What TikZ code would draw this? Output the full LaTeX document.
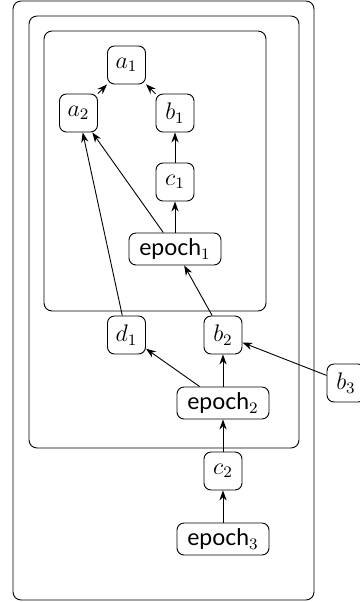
\documentclass[tikz,border=0pt]{standalone}
\usepackage{fontspec}
\setmainfont{Lato}
\usetikzlibrary{arrows.meta}
\begin{document}
\begin{tikzpicture}[x=0.5pt,y=-0.5pt,line width=0.45pt,
        every node/.style={font=\fontsize{11.5}{13}\selectfont},
        var/.style={draw,rounded corners=3.5pt,minimum width=19pt,minimum height=19pt,inner sep=1pt},
        epoch/.style={var,minimum width=46pt,minimum height=16pt},
        dep/.style={-{Stealth[length=5pt,width=3.6pt,inset=1.6pt]}},
        frame/.style={draw,rounded corners=4pt}]
        \useasboundingbox (0,0) rectangle (360,602);

        % nested frames
        \draw[frame] (13,1) rectangle (314,600);
        \draw[frame] (29,16) rectangle (299,448);
        \draw[frame] (44,31) rectangle (266,311);

        \node[var] (a1) at (126.5,65) {$a_1$};
        \node[var] (a2) at (78.5,113) {$a_2$};
        \node[var] (b1) at (175,113) {$b_1$};
        \node[var] (c1) at (175,182) {$c_1$};
        \node[epoch] (e1) at (175,249) {epoch$_1$};
        \node[var] (d1) at (126.5,335) {$d_1$};
        \node[var] (b2) at (223,335) {$b_2$};
        \node[var] (b3) at (346,383) {$b_3$};
        \node[epoch] (e2) at (223,403) {epoch$_2$};
        \node[var] (c2) at (223,471) {$c_2$};
        \node[epoch] (e3) at (223,539) {epoch$_3$};

        \draw[dep] (a2) -- (a1);
        \draw[dep] (b1) -- (a1);
        \draw[dep] (c1) -- (b1);
        \draw[dep] (e1) -- (c1);
        \draw[dep] (e1) -- (a2);
        \draw[dep] (d1) -- (a2);
        \draw[dep] (b2) -- (e1);
        \draw[dep] (e2) -- (d1);
        \draw[dep] (e2) -- (b2);
        \draw[dep] (b3) -- (b2);
        \draw[dep] (c2) -- (e2);
        \draw[dep] (e3) -- (c2);
    \end{tikzpicture}
\end{document}
